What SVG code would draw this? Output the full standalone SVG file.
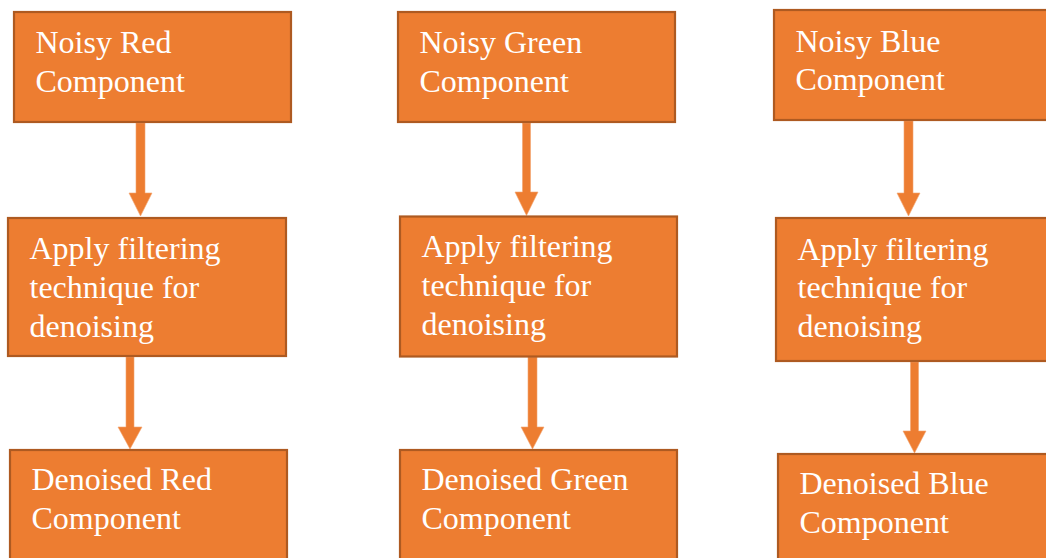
<svg xmlns="http://www.w3.org/2000/svg" width="1046" height="558" viewBox="0 0 1046 558">
<style>
.box{fill:#ED7D31;stroke:#AE5A21;stroke-width:2.2}
.lbl{font-family:"Liberation Serif","Times New Roman",serif;font-size:32px;fill:#FFFFFF}
.arr{fill:#ED7D31;stroke:#F4A46E;stroke-width:0.6}
</style>
<rect width="1046" height="558" fill="#FFFFFF"/>
<g id="connectors">
<polygon class="arr" points="136,123 145,123 145,193 152,193 140.5,216 129,193 136,193"/>
<polygon class="arr" points="126,357 134,357 134,427 142,427 130,449 118,427 126,427"/>
<polygon class="arr" points="522.5,123 530.5,123 530.5,192 538,192 526.5,215.5 515,192 522.5,192"/>
<polygon class="arr" points="528,357 537,357 537,427 544,427 532.5,449 521,427 528,427"/>
<polygon class="arr" points="904,121 913,121 913,193 920,193 908.5,216 897,193 904,193"/>
<polygon class="arr" points="910.5,362 918.5,362 918.5,431 926,431 914.5,453 903,431 910.5,431"/>
</g>
<g id="noisy-red">
<rect class="box" x="14" y="12" width="277" height="110"/>
<text class="lbl"><tspan x="35.5" y="53">Noisy Red</tspan><tspan x="35.5" y="91.8">Component</tspan></text>
</g>
<g id="filter-red">
<rect class="box" x="8" y="218" width="278" height="138"/>
<text class="lbl"><tspan x="29.5" y="259">Apply filtering</tspan><tspan x="29.5" y="297.8">technique for</tspan><tspan x="29.5" y="336.6">denoising</tspan></text>
</g>
<g id="denoised-red">
<rect class="box" x="10" y="450" width="277" height="120"/>
<text class="lbl"><tspan x="31.5" y="490">Denoised Red</tspan><tspan x="31.5" y="529">Component</tspan></text>
</g>
<g id="noisy-green">
<rect class="box" x="398" y="12" width="277" height="110"/>
<text class="lbl"><tspan x="419.5" y="53">Noisy Green</tspan><tspan x="419.5" y="91.8">Component</tspan></text>
</g>
<g id="filter-green">
<rect class="box" x="400" y="216.5" width="277" height="140"/>
<text class="lbl"><tspan x="421.5" y="257">Apply filtering</tspan><tspan x="421.5" y="295.8">technique for</tspan><tspan x="421.5" y="334.6">denoising</tspan></text>
</g>
<g id="denoised-green">
<rect class="box" x="400" y="450" width="277" height="120"/>
<text class="lbl"><tspan x="421.5" y="490">Denoised Green</tspan><tspan x="421.5" y="529">Component</tspan></text>
</g>
<g id="noisy-blue">
<rect class="box" x="774" y="10" width="280" height="110"/>
<text class="lbl"><tspan x="795.5" y="51.5">Noisy Blue</tspan><tspan x="795.5" y="90.3">Component</tspan></text>
</g>
<g id="filter-blue">
<rect class="box" x="776" y="218" width="280" height="143"/>
<text class="lbl"><tspan x="797.5" y="259.5">Apply filtering</tspan><tspan x="797.5" y="298.3">technique for</tspan><tspan x="797.5" y="337">denoising</tspan></text>
</g>
<g id="denoised-blue">
<rect class="box" x="778" y="454" width="280" height="120"/>
<text class="lbl"><tspan x="799.5" y="494">Denoised Blue</tspan><tspan x="799.5" y="532.8">Component</tspan></text>
</g>
</svg>
